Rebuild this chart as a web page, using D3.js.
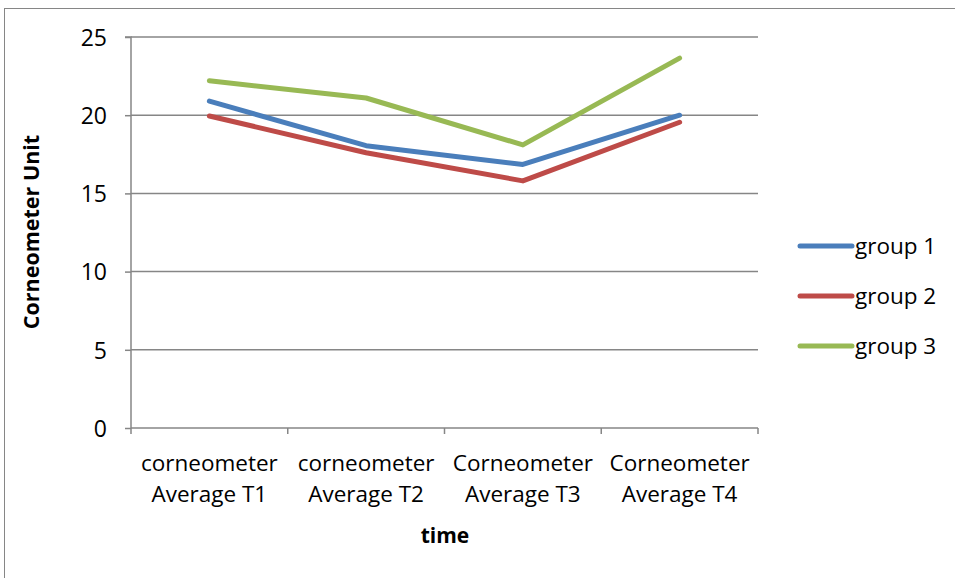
<!DOCTYPE html>
<html><head><meta charset="utf-8">
<script src="https://cdn.jsdelivr.net/npm/d3@7"></script>
<style>body{margin:0;background:#fff}</style>
</head><body>
<svg id="c" width="955" height="578"></svg>
<script>
const categories = [["corneometer","Average T1"],["corneometer","Average T2"],["Corneometer","Average T3"],["Corneometer","Average T4"]];
const seriesNames = ["group 1","group 2","group 3"];
const group1 = [20.9, 18.05, 16.85, 20.0];
const group2 = [19.95, 17.6, 15.8, 19.55];
const group3 = [22.2, 21.1, 18.1, 23.65];
const yTicks = [0,5,10,15,20,25];
const colors = ["#4A7EBB","#BE4B48","#98B954"];
const series = [group1, group2, group3];

const svg = d3.select("#c");
const font = "'Open Sans', Lato, sans-serif";
svg.append("rect").attr("x",4.5).attr("y",8.5).attr("width",960).attr("height",600)
  .attr("fill","none").attr("stroke","#868686").attr("stroke-width",1);

const x0 = 131, x1 = 758, yTop = 37, yBot = 428;
const x = d3.scaleBand().domain(d3.range(categories.length)).range([x0,x1]).padding(0);
const y = d3.scaleLinear().domain([0,25]).range([yBot,yTop]);

// gridlines
svg.append("g").selectAll("line").data(yTicks.filter(d=>d>0)).join("line")
  .attr("x1",x0).attr("x2",x1).attr("y1",d=>y(d)).attr("y2",d=>y(d))
  .attr("stroke","#868686").attr("stroke-width",1.5);

// y axis
const ya = svg.append("g").attr("transform",`translate(${x0},0)`)
  .call(d3.axisLeft(y).tickValues(yTicks).tickSize(6).tickPadding(18).tickFormat(d3.format("d")));
ya.select(".domain").attr("stroke","#868686").attr("stroke-width",1.5).attr("d",`M-6,${yTop}H0V${yBot}`);
ya.selectAll(".tick line").attr("stroke","#868686").attr("stroke-width",1.5);
ya.selectAll("text").attr("font-family",font).attr("font-size",23).attr("fill","#000").attr("dy","0.36em");

// x axis
const xa = svg.append("g").attr("transform",`translate(0,${yBot})`);
xa.append("line").attr("x1",x0).attr("x2",x1).attr("y1",0).attr("y2",0).attr("stroke","#868686").attr("stroke-width",1.5);
xa.selectAll(".t").data(d3.range(categories.length+1)).join("line")
  .attr("x1",i=>x0+i*x.bandwidth()).attr("x2",i=>x0+i*x.bandwidth()).attr("y1",0).attr("y2",6)
  .attr("stroke","#868686").attr("stroke-width",1.5);
const lab = xa.selectAll(".lab").data(categories).join("text")
  .attr("x",(d,i)=>x(i)+x.bandwidth()/2).attr("text-anchor","middle")
  .attr("font-family",font).attr("font-size",22.5).attr("fill","#000");
lab.append("tspan").attr("x",(d,i)=>x(i)+x.bandwidth()/2).attr("y",43).text(d=>d[0]);
lab.append("tspan").attr("x",(d,i)=>x(i)+x.bandwidth()/2).attr("y",74).text(d=>d[1]);

// titles
svg.append("text").attr("x",445).attr("y",543).attr("text-anchor","middle")
  .attr("font-family",font).attr("font-weight","bold").attr("font-size",21).text("time");
svg.append("text").attr("transform","translate(39,232) rotate(-90)").attr("text-anchor","middle")
  .attr("font-family",font).attr("font-weight","bold").attr("font-size",21.5).text("Corneometer Unit");

// lines
const line = d3.line().x((d,i)=>x(i)+x.bandwidth()/2).y(d=>y(d));
series.forEach((s,k)=>{
  svg.append("path").datum(s).attr("d",line).attr("fill","none")
    .attr("stroke",colors[k]).attr("stroke-width",5).attr("stroke-linecap","round").attr("stroke-linejoin","round");
});

// legend
const lg = svg.append("g");
const ly = [246,296,346];
seriesNames.forEach((n,k)=>{
  lg.append("line").attr("x1",800).attr("x2",852).attr("y1",ly[k]).attr("y2",ly[k])
    .attr("stroke",colors[k]).attr("stroke-width",5).attr("stroke-linecap","round");
  lg.append("text").attr("x",855).attr("y",ly[k]+8).attr("font-family",font).attr("font-size",22.5).text(n);
});
</script>
</body></html>
